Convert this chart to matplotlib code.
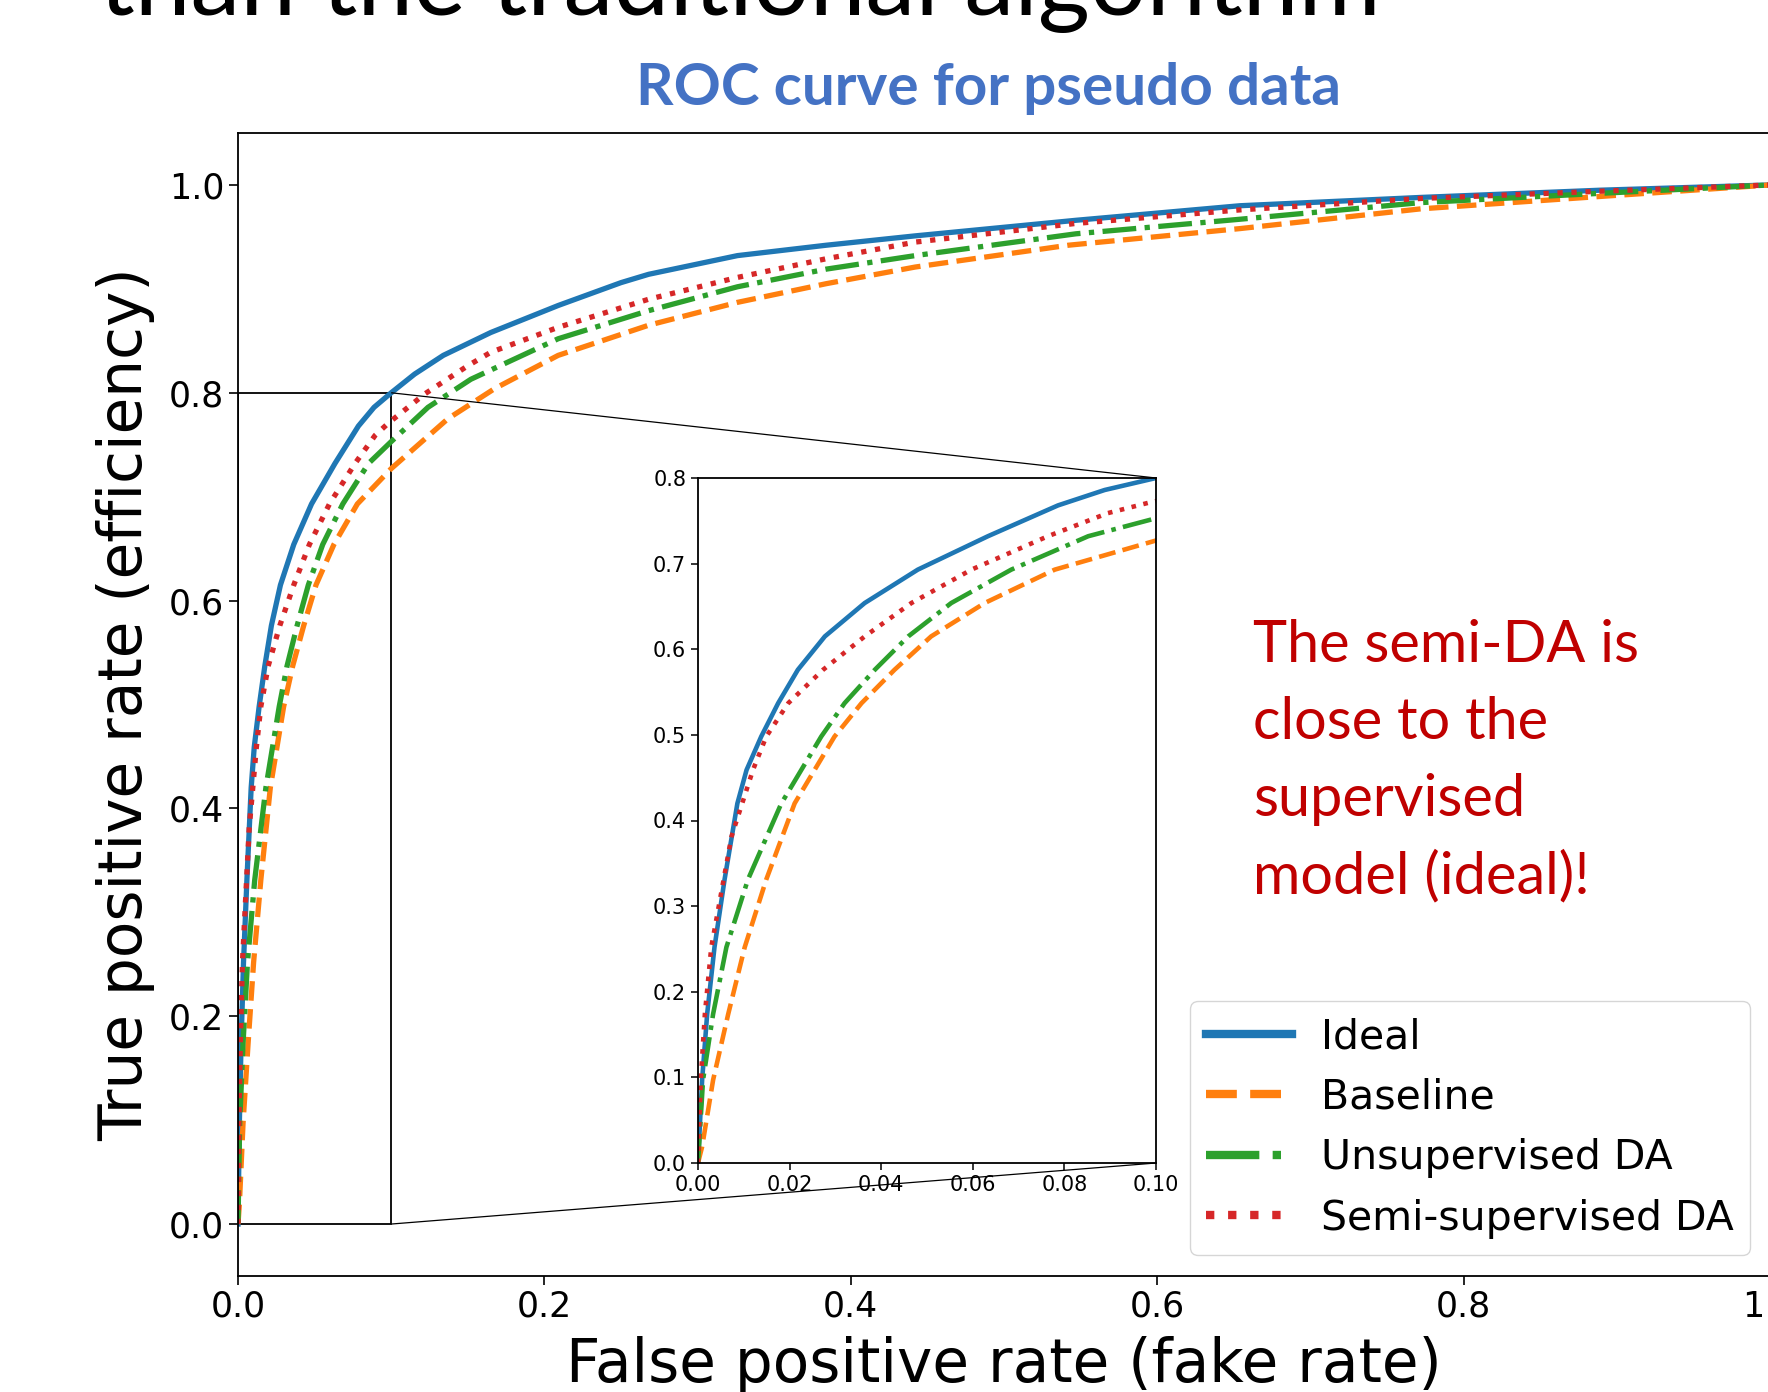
import matplotlib
matplotlib.use("Agg")
import matplotlib.pyplot as plt
from mpl_toolkits.axes_grid1.inset_locator import mark_inset

# ROC curves (false positive rate, true positive rate)
ideal_fpr = [0.0, 0.0009, 0.002, 0.0036, 0.0058, 0.0086, 0.0106, 0.0138, 0.0175, 0.0218, 0.0277,
             0.0364, 0.048, 0.0633, 0.0786, 0.0888, 0.1, 0.1153, 0.134, 0.165, 0.209, 0.25,
             0.268, 0.326, 0.384, 0.442, 0.547, 0.654, 0.772, 0.89, 1.0]
ideal_tpr = [0.0, 0.097, 0.174, 0.252, 0.331, 0.42, 0.459, 0.498, 0.537, 0.576, 0.615,
             0.654, 0.693, 0.732, 0.768, 0.786, 0.8, 0.818, 0.836, 0.858, 0.884, 0.906,
             0.914, 0.932, 0.942, 0.951, 0.966, 0.98, 0.988, 0.995, 1.0]

base_fpr = [0.0, 0.0009, 0.0033, 0.0066, 0.0102, 0.0149, 0.0211, 0.0298, 0.0357, 0.0429, 0.0509,
            0.0626, 0.0779, 0.1, 0.137, 0.1675, 0.209, 0.268, 0.326, 0.384, 0.442, 0.542,
            0.654, 0.772, 0.89, 1.0]
base_tpr = [0.0, 0.019, 0.097, 0.174, 0.252, 0.331, 0.42, 0.498, 0.537, 0.576, 0.615,
            0.654, 0.693, 0.727, 0.775, 0.804, 0.836, 0.865, 0.887, 0.905, 0.921, 0.942,
            0.958, 0.977, 0.989, 1.0]

unsup_fpr = [0.0, 0.0011, 0.0033, 0.0062, 0.0109, 0.0182, 0.0269, 0.032, 0.0386, 0.0459, 0.0553,
             0.0684, 0.0852, 0.1, 0.124, 0.152, 0.209, 0.268, 0.326, 0.384, 0.442, 0.547,
             0.654, 0.772, 0.89, 1.0]
unsup_tpr = [0.0, 0.097, 0.174, 0.252, 0.331, 0.42, 0.498, 0.537, 0.576, 0.615, 0.654,
             0.693, 0.732, 0.753, 0.786, 0.813, 0.852, 0.879, 0.902, 0.919, 0.932, 0.953,
             0.967, 0.983, 0.992, 1.0]

semi_fpr = [0.0, 0.0006, 0.0015, 0.0029, 0.0073, 0.012, 0.0149, 0.0197, 0.0273, 0.0364, 0.0466,
            0.0597, 0.0764, 0.0895, 0.0983, 0.122, 0.15, 0.165, 0.209, 0.268, 0.326, 0.384,
            0.442, 0.547, 0.654, 0.772, 0.89, 1.0]
semi_tpr = [0.0, 0.097, 0.174, 0.252, 0.381, 0.459, 0.498, 0.537, 0.576, 0.615, 0.654,
            0.693, 0.732, 0.759, 0.771, 0.799, 0.826, 0.839, 0.863, 0.89, 0.911, 0.929,
            0.945, 0.963, 0.976, 0.987, 0.994, 1.0]

labels = ["Ideal", "Baseline", "Unsupervised DA", "Semi-supervised DA"]
main_xticks = [0.0, 0.2, 0.4, 0.6, 0.8, 1.0]
main_yticks = [0.0, 0.2, 0.4, 0.6, 0.8, 1.0]
inset_xticks = [0.0, 0.02, 0.04, 0.06, 0.08, 0.10]
inset_yticks = [0.0, 0.1, 0.2, 0.3, 0.4, 0.5, 0.6, 0.7, 0.8]

slide_heading = "than the traditional algorithm"
chart_title = "ROC curve for pseudo data"
note_lines = ["The semi-DA is", "close to the", "supervised", "model (ideal)!"]

curves = [(ideal_fpr, ideal_tpr), (base_fpr, base_tpr), (unsup_fpr, unsup_tpr), (semi_fpr, semi_tpr)]
colors = ["#1f77b4", "#ff7f0e", "#2ca02c", "#d62728"]
styles = ["-", "--", "-.", ":"]

W, H = 1768, 1392
fig = plt.figure(figsize=(W / 100, H / 100), dpi=100)

ax = fig.add_axes([238 / W, 1 - 1276 / H, 1532 / W, 1143 / H])
for (x, y), c, ls, lab in zip(curves, colors, styles, labels):
    ax.plot(x, y, color=c, ls=ls, lw=3.8, label=lab)
ax.set_xlim(0, 1.0)
ax.set_ylim(-0.05, 1.05)
ax.set_xticks(main_xticks)
ax.set_yticks(main_yticks)
ax.tick_params(labelsize=25, length=6.5, width=1.2)
for s in ax.spines.values():
    s.set_linewidth(1.3)
ax.set_xlabel("False positive rate (fake rate)", fontsize=43, labelpad=8.5)
ax.set_ylabel("True positive rate (efficiency)", fontsize=43, labelpad=10)

leg = ax.legend(loc="lower right", bbox_to_anchor=(1750 / W, 1 - 1255 / H),
                bbox_transform=fig.transFigure, borderaxespad=0, fontsize=29.5,
                labelspacing=0.5, handlelength=2.1, handletextpad=0.7, borderpad=0.4)
for line in leg.get_lines():
    line.set_linewidth(6)

# zoomed inset
axins = fig.add_axes([698 / W, 1 - 1163 / H, 458 / W, 685 / H])
for (x, y), c, ls in zip(curves, colors, styles):
    axins.plot(x, y, color=c, ls=ls, lw=3.3)
axins.set_xlim(0, 0.1)
axins.set_ylim(0, 0.8)
axins.set_xticks(inset_xticks)
axins.set_yticks(inset_yticks)
axins.tick_params(labelsize=15, length=5, width=1.1)
for s in axins.spines.values():
    s.set_linewidth(1.3)
pp, p1, p2 = mark_inset(ax, axins, loc1=1, loc2=4, fc="none", ec="black", lw=1.3)
p1.set_linewidth(0.9)
p2.set_linewidth(0.9)

# slide text around the chart
fig.text(99 / W, 1 - 15 / H, slide_heading, family="Lato", fontsize=72,
         ha="left", va="baseline", color="black")
fig.text(988 / W, 1 - 105 / H, chart_title, family="Lato", fontweight="bold",
         fontsize=42, ha="center", va="baseline", color="#4472C4")
for i, txt in enumerate(note_lines):
    fig.text(1253 / W, 1 - (662 + 77 * i) / H, txt, family="Lato", fontsize=41.5,
             ha="left", va="baseline", color="#C00000")

fig.savefig("out.png", dpi=100, facecolor="white")
